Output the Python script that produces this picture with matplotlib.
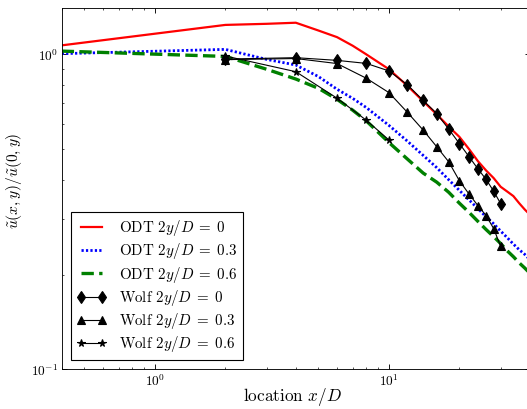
import numpy as np
import matplotlib
matplotlib.use("Agg")
import matplotlib.pyplot as plt

plt.rcParams["font.family"] = "serif"
plt.rcParams["font.serif"] = ["cmr10"]
plt.rcParams["mathtext.fontset"] = "cm"
plt.rcParams["axes.formatter.use_mathtext"] = True
plt.rcParams["axes.unicode_minus"] = False
plt.rcParams["font.size"] = 12

# ---- ODT centreline decay ----
x_odt = [0.4, 2, 3, 4, 5, 6, 7, 8, 10, 12, 14, 16, 18, 20, 22, 24, 26, 28, 30, 32, 34, 36, 38, 40]
u_odt_0 = [1.068, 1.24, 1.25, 1.26, 1.19, 1.134, 1.065, 1.0, 0.897, 0.794, 0.71, 0.645, 0.59,
           0.547, 0.50, 0.458, 0.428, 0.405, 0.38, 0.367, 0.355, 0.337, 0.322, 0.31]
u_odt_3 = [1.005, 1.037, 0.964, 0.925, 0.85, 0.775, 0.725, 0.678, 0.595, 0.53, 0.478, 0.437,
           0.40, 0.37, 0.345, 0.324, 0.305, 0.29, 0.275, 0.262, 0.25, 0.24, 0.232, 0.223]
u_odt_6 = [1.024, 0.985, 0.897, 0.835, 0.78, 0.72, 0.665, 0.615, 0.525, 0.465, 0.42, 0.393,
           0.365, 0.337, 0.315, 0.295, 0.278, 0.264, 0.251, 0.238, 0.228, 0.218, 0.21, 0.202]

# ---- Wolf measurements ----
x_wolf = [2, 4, 6, 8, 10, 12, 14, 16, 18, 20, 22, 24, 26, 28, 30]
u_wolf_0 = [0.966, 0.976, 0.957, 0.936, 0.886, 0.80, 0.714, 0.649, 0.579, 0.521, 0.473,
            0.433, 0.401, 0.368, 0.336]
u_wolf_3 = [0.962, 0.97, 0.935, 0.84, 0.756, 0.654, 0.575, 0.509, 0.456, 0.397, 0.36,
            0.331, 0.308, 0.28, 0.246]
x_wolf_6 = [2, 4, 6, 8, 10]
u_wolf_6 = [0.988, 0.881, 0.726, 0.618, 0.535]

EQ = r"\;=\;"

fig = plt.figure(figsize=(527 / 80, 409 / 80), dpi=80, facecolor="white")
ax = fig.add_axes([0.1171, 0.0966, 0.8884, 0.8831])

ax.plot(x_odt, u_odt_0, "r-", lw=2, label=rf"ODT $2y/D{EQ}0$")
ax.plot(x_odt, u_odt_3, "b", lw=2.5, dashes=(0.8, 0.8), label=rf"ODT $2y/D{EQ}0.3$")
ax.plot(x_odt, u_odt_6, "g--", lw=3, label=rf"ODT $2y/D{EQ}0.6$")
ax.plot(x_wolf, u_wolf_0, "k-", marker="d", ms=8, lw=1, label=rf"Wolf $2y/D{EQ}0$")
ax.plot(x_wolf, u_wolf_3, "k-", marker="^", ms=8, lw=1, label=rf"Wolf $2y/D{EQ}0.3$")
ax.plot(x_wolf_6, u_wolf_6, "k-", marker="*", ms=7, lw=1, label=rf"Wolf $2y/D{EQ}0.6$")

ax.set_xscale("log")
ax.set_yscale("log")
ax.set_xlim(0.4, 40)
ax.set_ylim(0.1, 1.4)
ax.tick_params(which="both", direction="in", top=True, right=True)
ax.tick_params(which="major", length=4.5)
ax.tick_params(which="minor", length=2.2)
ax.set_xlabel(r"location $x/D$", fontsize=15.5)
ax.set_ylabel(r"$\tilde{u}(x,y)/\tilde{u}(0,y)$", fontsize=14)
ax.xaxis.set_label_coords(0.494, -0.045)
ax.yaxis.set_label_coords(-0.08, 0.522)

leg = ax.legend(loc="lower left", numpoints=2, fancybox=False, framealpha=1,
                edgecolor="black", fontsize=13.5, labelspacing=0.22,
                borderaxespad=0.6, handlelength=2.0)
leg.get_frame().set_linewidth(1)

fig.savefig("out.png", dpi=80, facecolor="white")
